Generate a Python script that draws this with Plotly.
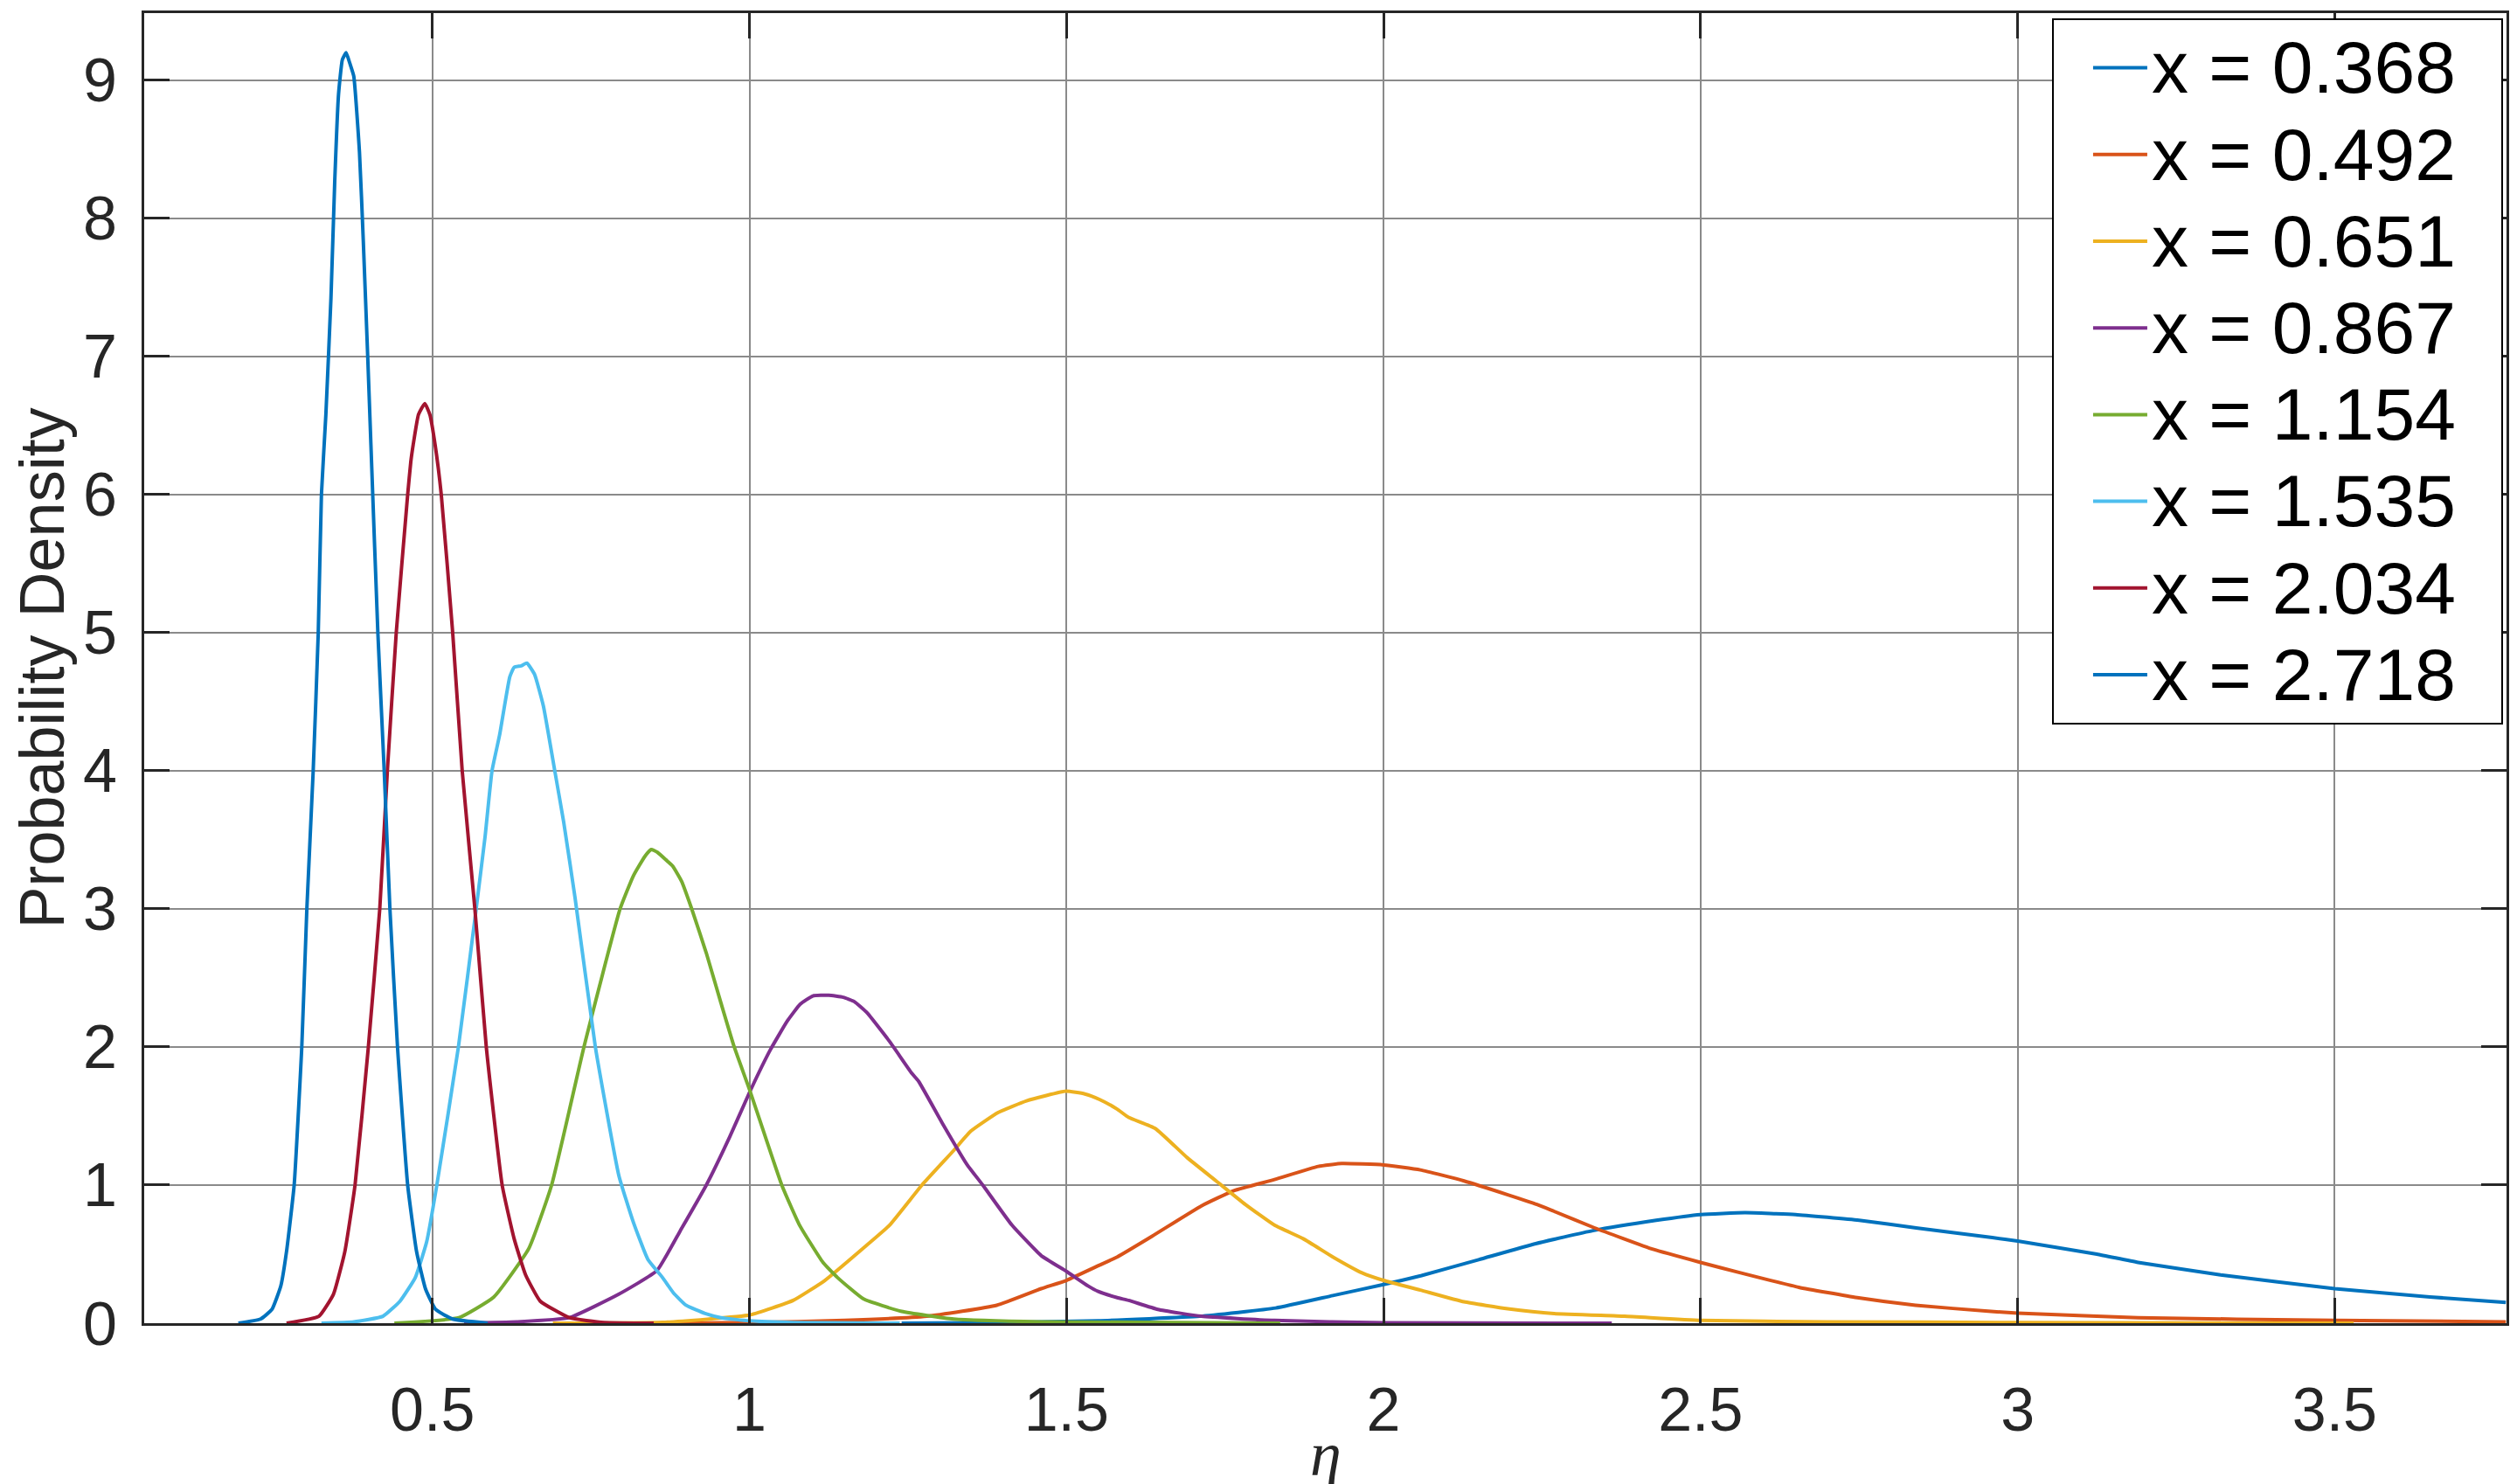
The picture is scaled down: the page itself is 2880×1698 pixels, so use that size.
from __future__ import annotations

import plotly.graph_objects as go

# kernel density curves, one (eta, density) pair per series
LABELS = ["x = 0.368", "x = 0.492", "x = 0.651", "x = 0.867",
          "x = 1.154", "x = 1.535", "x = 2.034", "x = 2.718"]

ETA_0368 = [1.24, 1.40, 1.55, 1.71, 1.83, 1.92, 2.00, 2.06, 2.15, 2.24, 2.33, 2.43,
            2.50, 2.57, 2.65, 2.75, 2.84, 2.96, 3.00, 3.125, 3.19, 3.32, 3.50, 3.65, 3.77]
DEN_0368 = [0.0, 0.005, 0.017, 0.05, 0.11, 0.20, 0.28, 0.345, 0.46, 0.576, 0.67, 0.745,
            0.787, 0.80, 0.787, 0.745, 0.69, 0.62, 0.595, 0.50, 0.44, 0.35, 0.25, 0.19, 0.15]

ETA_0492 = [0.86, 1.00, 1.15, 1.28, 1.39, 1.46, 1.50, 1.552, 1.58, 1.635, 1.713, 1.764,
            1.828, 1.897, 1.934, 2.00, 2.058, 2.127, 2.196, 2.242, 2.269, 2.333, 2.425,
            2.50, 2.563, 2.655, 2.747, 2.839, 2.958, 3.00, 3.19, 3.50, 3.77]
DEN_0492 = [0.0, 0.005, 0.02, 0.05, 0.13, 0.25, 0.31, 0.42, 0.48, 0.63, 0.85, 0.96,
            1.04, 1.135, 1.156, 1.146, 1.11, 1.03, 0.93, 0.86, 0.81, 0.69, 0.535,
            0.44, 0.365, 0.26, 0.185, 0.13, 0.085, 0.073, 0.04, 0.02, 0.01]

ETA_0651 = [0.69, 0.863, 1.001, 1.069, 1.119, 1.185, 1.221, 1.272, 1.322, 1.349, 1.392,
            1.437, 1.499, 1.529, 1.552, 1.58, 1.598, 1.64, 1.69, 1.736, 1.782, 1.828,
            1.874, 1.92, 1.966, 2.00, 2.058, 2.127, 2.196, 2.269, 2.38, 2.50, 2.70, 3.00, 3.53]
DEN_0651 = [0.0, 0.006, 0.06, 0.165, 0.31, 0.565, 0.71, 1.0, 1.25, 1.39, 1.525,
            1.61, 1.68, 1.66, 1.62, 1.55, 1.49, 1.41, 1.20, 1.03, 0.86, 0.71,
            0.61, 0.48, 0.365, 0.31, 0.24, 0.155, 0.105, 0.07, 0.05, 0.02, 0.01, 0.005, 0.0]

ETA_0867 = [0.55, 0.633, 0.716, 0.794, 0.854, 0.891, 0.932, 0.969, 1.001, 1.033, 1.06,
            1.08, 1.10, 1.125, 1.148, 1.165, 1.185, 1.221, 1.256, 1.267, 1.304, 1.343,
            1.368, 1.414, 1.46, 1.50, 1.534, 1.55, 1.58, 1.598, 1.644, 1.713, 1.828, 2.00, 2.36]
DEN_0867 = [0.0, 0.01, 0.04, 0.21, 0.38, 0.67, 1.0, 1.35, 1.68, 1.98, 2.19,
            2.31, 2.37, 2.375, 2.36, 2.33, 2.25, 2.04, 1.81, 1.75, 1.45, 1.15,
            1.0, 0.71, 0.49, 0.375, 0.27, 0.23, 0.185, 0.165, 0.10, 0.05, 0.02, 0.003, 0.0]

ETA_1154 = [0.44, 0.542, 0.597, 0.652, 0.688, 0.739, 0.796, 0.817, 0.835, 0.845, 0.855,
            0.872, 0.879, 0.893, 0.909, 0.932, 0.955, 0.976, 1.001, 1.051, 1.079, 1.116,
            1.139, 1.18, 1.24, 1.322, 1.46, 1.837]
DEN_1154 = [0.0, 0.04, 0.19, 0.54, 1.0, 2.0, 3.0, 3.24, 3.38, 3.43, 3.41,
            3.34, 3.31, 3.20, 3.0, 2.68, 2.32, 2.0, 1.68, 1.0, 0.71, 0.44,
            0.33, 0.175, 0.085, 0.03, 0.01, 0.0]

ETA_1535 = [0.325, 0.376, 0.422, 0.449, 0.473, 0.491, 0.507, 0.541, 0.569, 0.583, 0.594,
            0.606, 0.622, 0.629, 0.64, 0.649, 0.661, 0.675, 0.693, 0.707, 0.725, 0.757,
            0.794, 0.817, 0.84, 0.863, 0.88, 0.90, 0.93, 0.955, 1.00, 1.07, 1.237]
DEN_1535 = [0.0, 0.01, 0.05, 0.16, 0.33, 0.59, 1.0, 2.0, 3.0, 3.52, 4.0,
            4.26, 4.68, 4.75, 4.76, 4.78, 4.70, 4.47, 4.0, 3.63, 3.08, 2.0,
            1.07, 0.73, 0.46, 0.33, 0.22, 0.13, 0.07, 0.04, 0.017, 0.005, 0.0]

ETA_2034 = [0.27, 0.321, 0.344, 0.362, 0.378, 0.399, 0.417, 0.429, 0.443, 0.461, 0.466,
            0.47, 0.478, 0.488, 0.496, 0.504, 0.514, 0.532, 0.547, 0.567, 0.585,
            0.61, 0.629, 0.647, 0.67, 0.716, 0.771, 0.849]
DEN_2034 = [0.0, 0.05, 0.21, 0.52, 1.0, 2.0, 3.0, 4.0, 5.0, 6.0, 6.24,
            6.37, 6.58, 6.66, 6.58, 6.37, 6.0, 5.0, 4.0, 3.0, 2.0,
            1.0, 0.61, 0.35, 0.16, 0.04, 0.005, 0.0]

ETA_2718 = [0.194, 0.229, 0.247, 0.261, 0.27, 0.282, 0.294, 0.302, 0.312, 0.32, 0.325,
            0.332, 0.34, 0.346, 0.352, 0.358, 0.364, 0.37, 0.376, 0.385, 0.391, 0.398,
            0.404, 0.414, 0.424, 0.433, 0.445, 0.461, 0.475, 0.489, 0.505, 0.532, 0.587]
DEN_2718 = [0.0, 0.03, 0.10, 0.27, 0.52, 1.0, 2.0, 3.0, 4.0, 5.0, 6.0,
            6.58, 7.42, 8.27, 8.9, 9.15, 9.20, 9.12, 9.03, 8.48, 7.84, 7.0,
            6.24, 5.0, 4.0, 3.0, 2.0, 1.0, 0.52, 0.25, 0.10, 0.03, 0.0]

SERIES = [
    (ETA_0368, DEN_0368), (ETA_0492, DEN_0492), (ETA_0651, DEN_0651), (ETA_0867, DEN_0867),
    (ETA_1154, DEN_1154), (ETA_1535, DEN_1535), (ETA_2034, DEN_2034), (ETA_2718, DEN_2718),
]

X_TICKS = [0.5, 1, 1.5, 2, 2.5, 3, 3.5]
X_TICK_TEXT = ["0.5", "1", "1.5", "2", "2.5", "3", "3.5"]
Y_TICKS = [0, 1, 2, 3, 4, 5, 6, 7, 8, 9]

# MATLAB default line colour order (wraps around for the 8th series)
COLORS = ["#0072BD", "#D95319", "#EDB120", "#7E2F8E",
          "#77AC30", "#4DBEEE", "#A2142F", "#0072BD"]

FONT = "Liberation Sans, Arial, Helvetica, sans-serif"
SERIF = "Liberation Serif, Times New Roman, serif"
INK = "#262626"


def legend_label(text: str) -> str:
    # legend row height follows legend.font, so the larger glyphs go in a span
    return f'<span style="font-size:84px">{text}\u00a0\u00a0</span>'


def build_figure() -> go.Figure:
    fig = go.Figure()
    for (eta, dens), name, color in zip(SERIES, LABELS, COLORS):
        fig.add_trace(go.Scatter(
            x=eta, y=dens, name=legend_label(name), mode="lines",
            line=dict(color=color, width=4, shape="spline", smoothing=0.4),
        ))

    axis_common = dict(
        showline=True, linecolor=INK, linewidth=3, mirror="ticks",
        ticks="inside", ticklen=29, tickwidth=3, tickcolor=INK,
        showgrid=True, gridcolor="#8a8a8a", gridwidth=2,
        zeroline=False,
        tickfont=dict(family=FONT, size=70, color=INK),
    )

    fig.update_xaxes(
        range=[0.0455, 3.771], tickvals=X_TICKS, ticktext=X_TICK_TEXT,
        ticklabelstandoff=36,
        **axis_common,
    )
    fig.update_yaxes(
        range=[0, 9.487], tickvals=Y_TICKS,
        ticklabelstandoff=14,
        title=dict(text="Probability Density", standoff=16,
                   font=dict(family=FONT, size=72, color=INK)),
        **axis_common,
    )

    # x title sits lower than plotly's margin-constrained title would, so it is an annotation
    fig.add_annotation(
        text="<i>η</i>", xref="paper", yref="paper", x=0.5, y=0,
        xanchor="center", yanchor="bottom", yshift=-192, showarrow=False,
        font=dict(family=SERIF, size=72, color=INK),
    )

    fig.update_layout(
        width=2880, height=1698,
        margin=dict(l=157, r=20, t=7, b=192, autoexpand=False),
        paper_bgcolor="white", plot_bgcolor="white",
        showlegend=True,
        legend=dict(
            x=0.9985, y=0.996, xanchor="right", yanchor="top",
            bgcolor="white", bordercolor="#000000", borderwidth=2,
            font=dict(family=FONT, size=74, color="#000000"),
            indentation=40, itemwidth=62, tracegroupgap=0,
        ),
    )
    return fig


if __name__ == "__main__":
    fig = build_figure()
    fig.write_html("out.html")
